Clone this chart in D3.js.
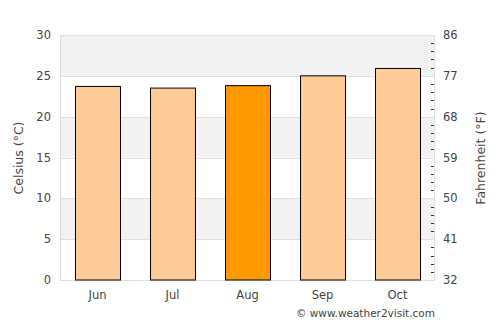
<!DOCTYPE html>
<html><head><meta charset="utf-8">
<script src="https://cdn.jsdelivr.net/npm/d3@7"></script>
<style>body{margin:0;background:#fff}svg{display:block;font-family:"DejaVu Sans",sans-serif}</style>
</head><body><svg id="c" width="500" height="325"></svg>
<script>
const months = ["Jun","Jul","Aug","Sep","Oct"];
const temps = [23.7, 23.5, 23.8, 25.0, 25.9];
const highlight = ["Aug"];
const celsiusTicks = [0,5,10,15,20,25,30];
const fahrenheitTicks = [32,41,50,59,68,77,86];

const svg = d3.select("#c");
const L=60, R=435, T=35, B=280;
const x = d3.scaleBand().domain(months).range([L,R]).paddingInner(0.4).paddingOuter(0.2);
const y = d3.scaleLinear().domain([0,30]).range([B,T]);
const yf = d3.scaleLinear().domain([32,86]).range([B,T]);

// bands
for (let i=0;i<celsiusTicks.length-1;i++){
  const a=celsiusTicks[i], b=celsiusTicks[i+1];
  svg.append("rect").attr("x",L).attr("width",R-L).attr("y",y(b)).attr("height",y(a)-y(b))
    .attr("fill", i%2===1 ? "#f2f2f2" : "#ffffff");
}
// grid lines
svg.selectAll(".g").data(celsiusTicks).enter().append("line")
  .attr("x1",L).attr("x2",R).attr("y1",d=>Math.round(y(d))+0.5).attr("y2",d=>Math.round(y(d))+0.5)
  .attr("stroke","#e0e0e0");
// borders
svg.append("line").attr("x1",L+0.5).attr("x2",L+0.5).attr("y1",T).attr("y2",B).attr("stroke","#dddddd");
svg.append("line").attr("x1",R-0.5).attr("x2",R-0.5).attr("y1",T).attr("y2",B).attr("stroke","#dddddd");

// bars
svg.selectAll(".bar").data(months).enter().append("rect")
  .attr("x",d=>Math.round(x(d))+0.5).attr("width",Math.round(x.bandwidth()))
  .attr("y",(d,i)=>y(temps[i])).attr("height",(d,i)=>B-y(temps[i]))
  .attr("fill",d=>highlight.includes(d)?"#ff9900":"#ffcc99")
  .attr("stroke","#000").attr("stroke-width",1);

// left axis labels
const lbl = "#444";
svg.selectAll(".yl").data(celsiusTicks).enter().append("text")
  .attr("x",51).attr("y",d=>y(d)+4).attr("text-anchor","end")
  .attr("font-size",11.5).attr("fill",lbl).text(d=>d);
// right axis labels
svg.selectAll(".yr").data(fahrenheitTicks).enter().append("text")
  .attr("x",443).attr("y",d=>yf(d)+4).attr("text-anchor","start")
  .attr("font-size",11.5).attr("fill",lbl).text(d=>d);
// right minor ticks (every 1°C)
const minor = d3.range(0,31).filter(c=>c%5!==0);
svg.selectAll(".mt").data(minor).enter().append("line")
  .attr("x1",R-4).attr("x2",R-1).attr("y1",d=>Math.round(y(d))+0.5).attr("y2",d=>Math.round(y(d))+0.5)
  .attr("stroke","#333");
// x labels
svg.selectAll(".xl").data(months).enter().append("text")
  .attr("x",d=>x(d)+x.bandwidth()/2).attr("y",299).attr("text-anchor","middle")
  .attr("font-size",11.5).attr("fill",lbl).text(d=>d);
// titles
svg.append("text").attr("transform","translate(23,158) rotate(-90)").attr("text-anchor","middle")
  .attr("font-size",12.5).attr("fill",lbl).text("Celsius (°C)");
svg.append("text").attr("transform","translate(485,158) rotate(-90)").attr("text-anchor","middle")
  .attr("font-size",12.5).attr("fill",lbl).text("Fahrenheit (°F)");
svg.append("text").attr("x",435).attr("y",317).attr("text-anchor","end")
  .attr("font-size",10.5).attr("fill",lbl).text("© www.weather2visit.com");
</script></body></html>
